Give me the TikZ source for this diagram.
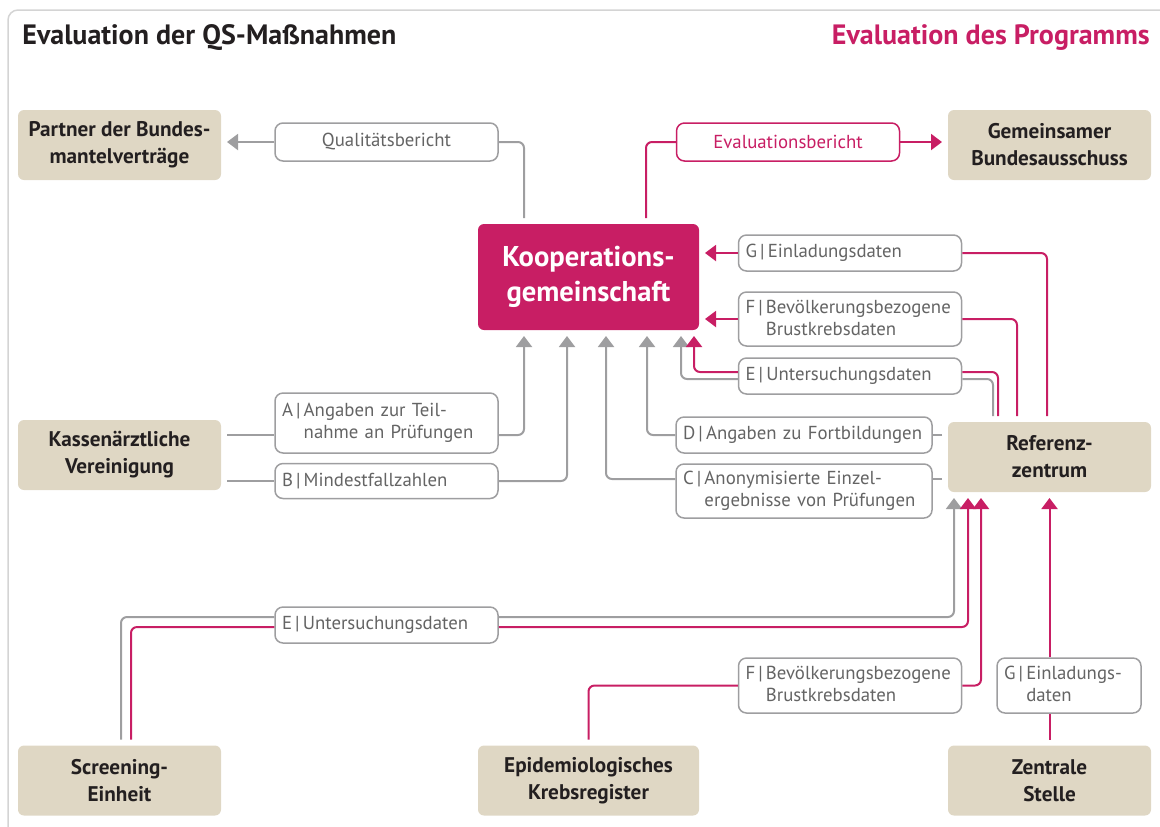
\documentclass[tikz,border=0pt]{standalone}
\usepackage{fontspec}
\setmainfont{PT Sans}
\usetikzlibrary{arrows.meta,positioning}

\definecolor{qsmagenta}{RGB}{200,30,100}
\definecolor{qsgray}{RGB}{158,158,160}
\definecolor{qstext}{RGB}{100,100,100}
\definecolor{qsbeige}{RGB}{223,215,196}
\definecolor{qsdark}{RGB}{35,31,32}
\definecolor{qsframe}{RGB}{212,212,212}

\newcommand{\flowkey}[1]{#1\,|\,}
\newcommand{\flowindent}[1]{\phantom{#1\,|\,}}

\begin{document}
\begin{tikzpicture}[x=0.5pt,y=-0.5pt,
    party/.style={fill=qsbeige, rounded corners=3pt, text=qsdark,
        font=\bfseries\fontsize{10.6}{13.5}\selectfont, align=center,
        minimum width=101.5pt, minimum height=35pt, inner sep=0pt, outer sep=3pt},
    flow/.style={draw=qsgray, fill=white, line width=0.75pt, rounded corners=4pt,
        text=qstext, font=\fontsize{9.4}{11}\selectfont, align=left,
        text width=104.5pt, minimum height=18pt, inner xsep=3.5pt, inner ysep=0pt},
    gline/.style={draw=qsgray, line width=1pt, rounded corners=3pt},
    mline/.style={draw=qsmagenta, line width=1pt, rounded corners=3pt},
    flowarrow/.style={-{Triangle[length=5.5pt,width=8pt]}}
]

\useasboundingbox (0,0) rectangle (1160,826);
% frame
    \draw[qsframe, line width=0.75pt, rounded corners=5pt] (8,10) rectangle (1180,850);

% titles
    \node[anchor=west, inner sep=0pt, text=qsdark, font=\bfseries\fontsize{14}{16}\selectfont]
        (tqs) at (22,38) {Evaluation der QS-Maßnahmen};
    \node[anchor=east, inner sep=0pt, text=qsmagenta, font=\bfseries\fontsize{14}{16}\selectfont]
        (tprog) at (1150,38) {Evaluation des Programms};

% parties
    \node[party] (pbm) at (119.5,145) {Partner der Bundes-\\mantelverträge};
    \node[party] (gba) at (1049.5,145) {Gemeinsamer\\Bundesausschuss};
    \node[party, fill=qsmagenta, text=white, minimum width=110.5pt, minimum height=53pt,
        font=\bfseries\fontsize{14.3}{17.5}\selectfont] (koop) at (588.5,277) {Kooperations-\\gemeinschaft};
    \node[party] (kv) at (119.5,455) {Kassenärztliche\\Vereinigung};
    \node[party] (ref) at (1049.5,457) {Referenz-\\zentrum};
    \node[party] (se) at (119.5,780.5) {Screening-\\Einheit};
    \node[party, minimum width=110.5pt] (ekr) at (588.5,780.5) {Epidemiologisches\\Krebsregister};
    \node[party] (zs) at (1049.5,780.5) {Zentrale\\Stelle};

% data flows
    \node[flow, align=center, minimum height=19pt] (qb) at (386.5,142) {Qualitätsbericht};
    \node[flow, align=center, minimum height=19pt, draw=qsmagenta, text=qsmagenta] (evb) at (788,142) {Evaluationsbericht};
    \node[flow] (gTop) at (850,253) {\flowkey{G}Einladungsdaten};
    \node[flow, minimum height=27pt] (fTop) at (850,319) {\flowkey{F}Bevölkerungsbezogene\\\flowindent{F}Brustkrebsdaten};
    \node[flow] (eTop) at (850,376) {\flowkey{E}Untersuchungsdaten};
    \node[flow, minimum height=30pt] (aBox) at (386.5,423) {\flowkey{A}Angaben zur Teil-\\\flowindent{A}nahme an Prüfungen};
    \node[flow, minimum height=17.5pt] (bBox) at (386.5,481) {\flowkey{B}Mindestfallzahlen};
    \node[flow, text width=121pt] (dBox) at (804,435) {\flowkey{D}Angaben zu Fortbildungen};
    \node[flow, text width=121pt, minimum height=27pt] (cBox) at (804,491) {\flowkey{C}Anonymisierte Einzel-\\\flowindent{C}ergebnisse von Prüfungen};
    \node[flow] (eBot) at (386.5,625) {\flowkey{E}Untersuchungsdaten};
    \node[flow, minimum height=27.5pt] (fBot) at (850,685.5) {\flowkey{F}Bevölkerungsbezogene\\\flowindent{F}Brustkrebsdaten};
    \node[flow, text width=65pt, minimum height=27.5pt] (gBot) at (1069,685.5) {\flowkey{G}Einladungs-\\\flowindent{G}daten};

% reports
    \draw[gline] (koop.north -| 524,0) |- (qb.east);
    \draw[gline, flowarrow] (qb.west) -- (pbm.east |- qb.west);
    \draw[mline] (koop.north -| 646,0) |- (evb.west);
    \draw[mline, flowarrow] (evb.east) -- (gba.west |- evb.east);

% Referenzzentrum to Kooperationsgemeinschaft
    \draw[mline] (ref.north -| 1047,0) |- (gTop.east);
    \draw[mline, flowarrow] (gTop.west) -- (koop.east |- gTop.west);
    \draw[mline] (ref.north -| 1017,0) |- (fTop.east);
    \draw[mline, flowarrow] (fTop.west) -- (koop.east |- fTop.west);
    \draw[gline] (ref.north -| 993,0) |- (eTop.east |- 0,379);
    \draw[mline] (ref.north -| 998,0) |- (eTop.east |- 0,372);
    \draw[gline, flowarrow] (eTop.west |- 0,379) -| (koop.south -| 681,0);
    \draw[mline, flowarrow] (eTop.west |- 0,372) -| (koop.south -| 694,0);
    \draw[gline] (ref.west |- dBox.east) -- (dBox.east);
    \draw[gline, flowarrow] (dBox.west) -| (koop.south -| 647,0);
    \draw[gline] (ref.west |- 0,479) -- (cBox.east |- 0,479);
    \draw[gline, flowarrow] (cBox.west |- 0,479) -| (koop.south -| 606,0);

% Kassenaerztliche Vereinigung
    \draw[gline] (kv.east |- 0,435) -- (aBox.west |- 0,435);
    \draw[gline, flowarrow] (aBox.east |- 0,435) -| (koop.south -| 524,0);
    \draw[gline] (kv.east |- bBox.west) -- (bBox.west);
    \draw[gline, flowarrow] (bBox.east) -| (koop.south -| 567,0);

% into Referenzzentrum
    \draw[gline] (se.north -| 121,0) |- (eBot.west |- 0,617);
    \draw[mline] (se.north -| 131,0) |- (eBot.west |- 0,627);
    \draw[gline, flowarrow] (eBot.east |- 0,617) -| (ref.south -| 954,0);
    \draw[mline, flowarrow] (eBot.east |- 0,627) -| (ref.south -| 968,0);
    \draw[mline] (ekr.north) |- (fBot.west);
    \draw[mline, flowarrow] (fBot.east) -| (ref.south -| 981,0);
    \draw[mline] (zs.north) -- (zs.north |- gBot.south);
    \draw[mline, flowarrow] (zs.north |- gBot.north) -- (ref.south);

\end{tikzpicture}
\end{document}
